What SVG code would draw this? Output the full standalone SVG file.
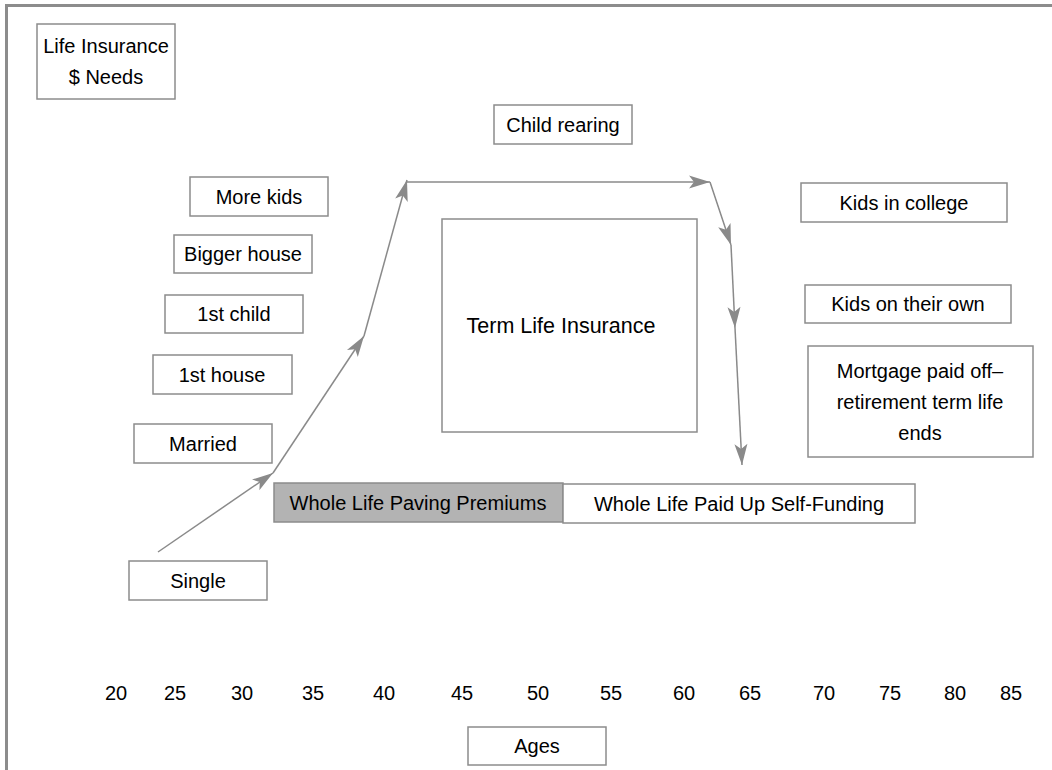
<svg xmlns="http://www.w3.org/2000/svg" width="1052" height="770" viewBox="0 0 1052 770">
  <style>
    .box { fill: #ffffff; stroke: #8c8c8c; stroke-width: 1.5; }
    .shade { fill: #b3b3b3; stroke: #8c8c8c; stroke-width: 1.5; }
    .lbl { font-family: "Liberation Sans", Arial, sans-serif; font-size: 20px; fill: #000000; text-anchor: middle; }
    .big { font-size: 21.5px; }
    .conn { fill: none; stroke: #8a8a8a; stroke-width: 1.5; marker-end: url(#ah); }
  </style>
  <defs>
    <marker id="ah" markerUnits="userSpaceOnUse" markerWidth="26" markerHeight="16" refX="22" refY="8" orient="auto" viewBox="0 0 26 16">
      <path d="M22,8 L1,1.5 L6,8 L1,14.5 Z" fill="#8a8a8a"/>
    </marker>
  </defs>
  <rect width="1052" height="770" fill="#ffffff"/>
  <path d="M6.5,770 V5.5 H1052" fill="none" stroke="#8c8c8c" stroke-width="3"/>

  <g id="connectors">
    <path class="conn" d="M158,552 L273,473"/>
    <path class="conn" d="M273,473 L364,336"/>
    <path class="conn" d="M364,336 L407,180"/>
    <path class="conn" d="M406,182 L710,182"/>
    <path class="conn" d="M710,182 L731,245"/>
    <path class="conn" d="M731,245 L735,328"/>
    <path class="conn" d="M735,328 L742,465"/>
  </g>

  <g id="title">
    <rect class="box" x="37" y="24" width="138" height="75"/>
    <text class="lbl" x="106" y="53">Life Insurance</text>
    <text class="lbl" x="106" y="84">$ Needs</text>
  </g>
  <g id="more-kids">
    <rect class="box" x="190" y="177" width="138" height="39"/>
    <text class="lbl" x="259" y="204">More kids</text>
  </g>
  <g id="child-rearing">
    <rect class="box" x="494" y="105" width="138" height="39"/>
    <text class="lbl" x="563" y="132">Child rearing</text>
  </g>
  <g id="bigger-house">
    <rect class="box" x="174" y="235" width="138" height="38"/>
    <text class="lbl" x="243" y="261">Bigger house</text>
  </g>
  <g id="first-child">
    <rect class="box" x="165" y="295" width="138" height="38"/>
    <text class="lbl" x="234" y="321">1st child</text>
  </g>
  <g id="first-house">
    <rect class="box" x="153" y="355" width="139" height="39"/>
    <text class="lbl" x="222" y="382">1st house</text>
  </g>
  <g id="married">
    <rect class="box" x="134" y="424" width="138" height="39"/>
    <text class="lbl" x="203" y="451">Married</text>
  </g>
  <g id="single">
    <rect class="box" x="129" y="561" width="138" height="39"/>
    <text class="lbl" x="198" y="588">Single</text>
  </g>
  <g id="term-life">
    <rect class="box" x="442" y="219" width="255" height="213"/>
    <text class="lbl big" x="561" y="333">Term Life Insurance</text>
  </g>
  <g id="whole-life-paying">
    <rect class="shade" x="274" y="483" width="289" height="39"/>
    <text class="lbl" x="418" y="510">Whole Life Paving Premiums</text>
  </g>
  <g id="whole-life-paid">
    <rect class="box" x="563" y="484" width="352" height="39"/>
    <text class="lbl" x="739" y="511">Whole Life Paid Up Self-Funding</text>
  </g>
  <g id="kids-college">
    <rect class="box" x="801" y="183" width="206" height="39"/>
    <text class="lbl" x="904" y="210">Kids in college</text>
  </g>
  <g id="kids-own">
    <rect class="box" x="805" y="285" width="206" height="38"/>
    <text class="lbl" x="908" y="311">Kids on their own</text>
  </g>
  <g id="mortgage">
    <rect class="box" x="808" y="346" width="225" height="111"/>
    <text class="lbl" x="920" y="378">Mortgage paid off–</text>
    <text class="lbl" x="920" y="409">retirement term life</text>
    <text class="lbl" x="920" y="440">ends</text>
  </g>
  <g id="ages-axis">
    <text class="lbl" x="116" y="700">20</text>
    <text class="lbl" x="175" y="700">25</text>
    <text class="lbl" x="242" y="700">30</text>
    <text class="lbl" x="313" y="700">35</text>
    <text class="lbl" x="384" y="700">40</text>
    <text class="lbl" x="462" y="700">45</text>
    <text class="lbl" x="538" y="700">50</text>
    <text class="lbl" x="611" y="700">55</text>
    <text class="lbl" x="684" y="700">60</text>
    <text class="lbl" x="750" y="700">65</text>
    <text class="lbl" x="824" y="700">70</text>
    <text class="lbl" x="890" y="700">75</text>
    <text class="lbl" x="955" y="700">80</text>
    <text class="lbl" x="1011" y="700">85</text>
  </g>
  <g id="ages">
    <rect class="box" x="468" y="727" width="138" height="38"/>
    <text class="lbl" x="537" y="753">Ages</text>
  </g>
</svg>
